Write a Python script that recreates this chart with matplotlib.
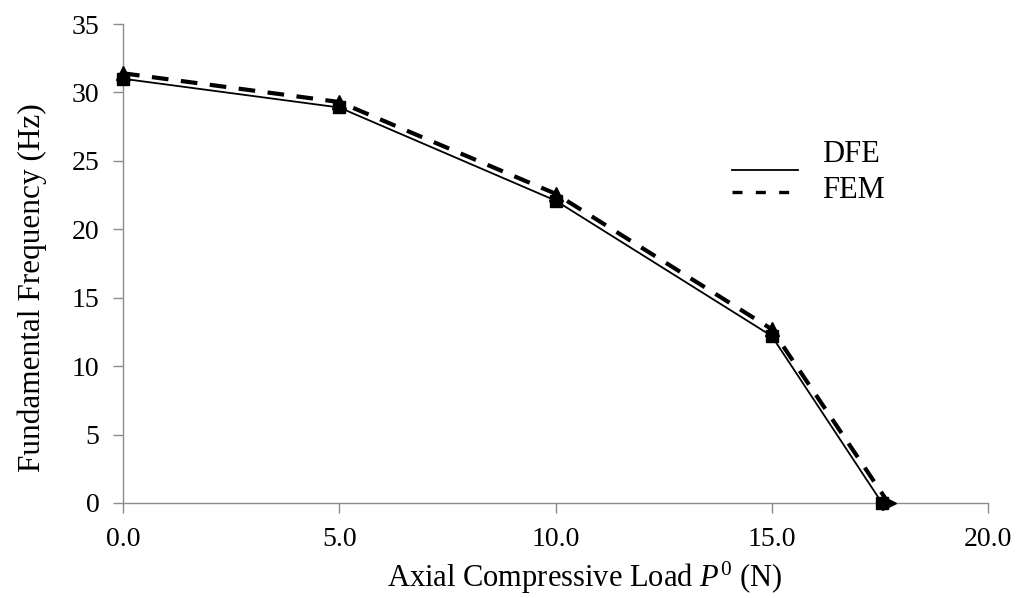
import numpy as np
import matplotlib.pyplot as plt
from matplotlib.lines import Line2D

plt.rcParams['font.family'] = ['Liberation Serif', 'DejaVu Serif']
plt.rcParams['mathtext.fontset'] = 'custom'
plt.rcParams['mathtext.rm'] = 'Liberation Serif'
plt.rcParams['mathtext.it'] = 'Liberation Serif:italic'

# data
load_dfe = [0.0, 5.0, 10.0, 15.0, 17.55]
freq_dfe = [31.0, 28.9, 22.1, 12.2, 0.0]
load_fem = [0.0, 5.0, 10.0, 15.0, 17.7]
freq_fem = [31.4, 29.3, 22.6, 12.7, 0.0]

xticks = [0, 5, 10, 15, 20]
yticks = [0, 5, 10, 15, 20, 25, 30, 35]
series_names = ['DFE', 'FEM']

W, H = 1017, 598
fig = plt.figure(figsize=(W / 100, H / 100), dpi=100)
ax = fig.add_axes([123 / W, 1 - 503 / H, 865 / W, 479 / H])

ax.plot(load_dfe, freq_dfe, color='black', lw=1.3, marker='s', markersize=8, zorder=3)
ax.plot(load_fem, freq_fem, color='black', lw=3, dashes=(4, 3),
        marker='^', markersize=10, markevery=[0, 1, 2, 3], zorder=4)
ax.plot(load_fem[-1:], freq_fem[-1:], color='black', marker='>', markersize=10, ls='none', zorder=4)

ax.set_xlim(0, 20)
ax.set_ylim(0, 35)
ax.set_xticks(xticks)
ax.set_xticklabels([f"{v:.1f}" for v in xticks])
ax.set_yticks(yticks)

for s in ['top', 'right']:
    ax.spines[s].set_visible(False)
for s in ['left', 'bottom']:
    ax.spines[s].set_color('#8c8c8c')
    ax.spines[s].set_linewidth(1.0)
ax.tick_params(axis='both', direction='out', length=7, width=1.0, color='#8c8c8c',
               labelsize=20)
ax.tick_params(axis='y', pad=10)
ax.tick_params(axis='x', pad=10)
for ln in ax.lines:
    ln.set_clip_on(False)

ax.set_xlabel(r"Axial Compressive Load $\mathit{P}^{\mathit{0}}$ (N)", fontsize=22)
ax.set_ylabel("Fundamental Frequency (Hz)", fontsize=22.5)
ax.xaxis.set_label_coords(0.534, -0.118)
ax.yaxis.set_label_coords(-0.088, 0.449)

# legend drawn by hand, no markers
fig.add_artist(Line2D([732 / W, 798 / W], [1 - 170 / H] * 2, color='black', lw=1.3))
fig.add_artist(Line2D([732 / W, 798 / W], [1 - 192 / H] * 2, color='black', lw=2.4, dashes=(3, 4)))
fig.text(822 / W, 1 - 155 / H, series_names[0], fontsize=22, va='center', ha='left')
fig.text(822 / W, 1 - 190 / H, series_names[1], fontsize=22, va='center', ha='left')

fig.savefig('out.png', dpi=100)
